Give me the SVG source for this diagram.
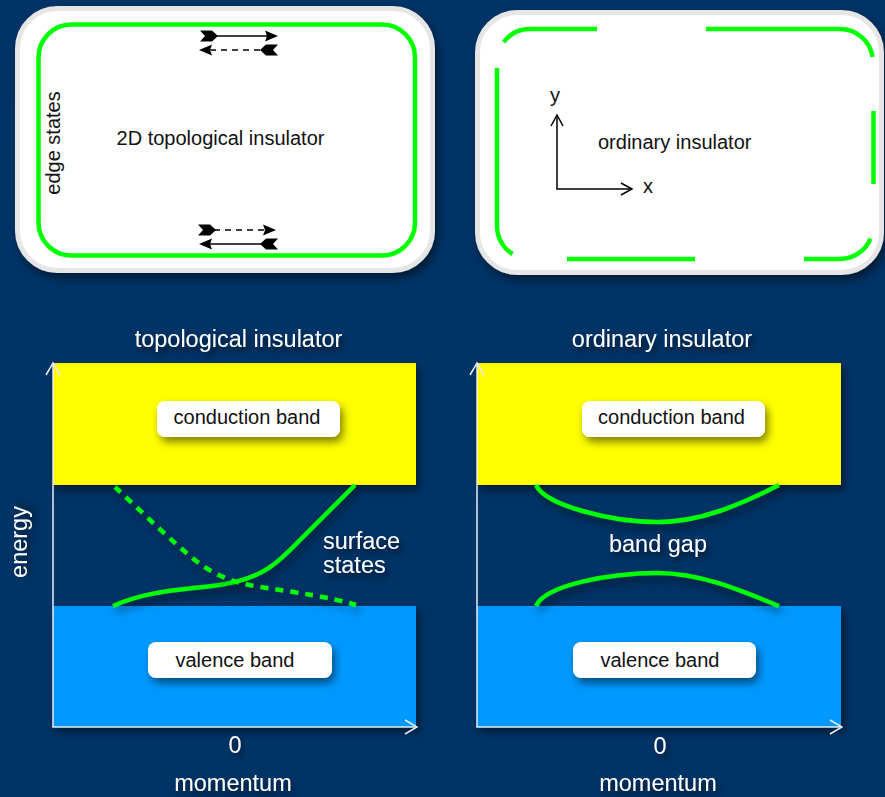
<svg xmlns="http://www.w3.org/2000/svg" width="885" height="797" viewBox="0 0 885 797">
  <defs>
    <style>
      .panel { fill: #ffffff; stroke: #e6e6e6; stroke-width: 5; }
      .edge { fill: none; stroke: #00ff00; stroke-width: 4.5; stroke-linecap: butt; }
      .ink { font-family: "Liberation Sans", Arial, sans-serif; font-size: 20px; fill: #111111; }
      .lbl { font-family: "Liberation Sans", Arial, sans-serif; font-size: 23.5px; fill: #ffffff; }
      .mid { text-anchor: middle; }
      .axis { fill: none; stroke: #e8eef5; stroke-width: 1.5; }
      .thin { fill: none; stroke: #000000; stroke-width: 1.5; }
      .cb { fill: #ffff00; }
      .vb { fill: #0099ff; }
      .box { fill: #ffffff; }
      .state { fill: none; stroke: #00ff00; stroke-width: 4.5; stroke-linecap: butt; }
      .dash { stroke-dasharray: 8 7; }
      .sdash { stroke-dasharray: 6 5; }
    </style>
    <filter id="shadow" x="-20%" y="-20%" width="150%" height="160%">
      <feDropShadow dx="3" dy="5" stdDeviation="4" flood-color="#000000" flood-opacity="0.5"/>
    </filter>
    <filter id="tshadow" x="-20%" y="-40%" width="150%" height="200%">
      <feDropShadow dx="3" dy="4" stdDeviation="3" flood-color="#000000" flood-opacity="0.6"/>
    </filter>
    <!-- fletched tail, tip at origin, pointing right -->
    <path id="fletch" d="M-18,-5.5 L-6,-5.5 L0,0 L-6,5.5 L-18,5.5 L-13,0 Z" fill="#000000"/>
    <!-- arrowhead, tip at origin, pointing right -->
    <path id="head" d="M0,0 L-13,-5.5 L-11,0 L-13,5.5 Z" fill="#000000"/>
    <marker id="open" viewBox="0 0 14 16" refX="13" refY="8" markerWidth="14" markerHeight="16" markerUnits="userSpaceOnUse" orient="auto">
      <path d="M1,1 L13,8 L1,15" fill="none" stroke="#e8eef5" stroke-width="1.5"/>
    </marker>
    <marker id="openk" viewBox="0 0 14 14" refX="12" refY="7" markerWidth="14" markerHeight="14" markerUnits="userSpaceOnUse" orient="auto">
      <path d="M1,1 L12,7 L1,13" fill="none" stroke="#000000" stroke-width="1.5"/>
    </marker>
  </defs>

  <rect width="885" height="797" fill="#003366"/>

  <!-- 2D topological insulator sample -->
  <g id="topo-sample">
    <rect class="panel" x="17.5" y="8.5" width="415" height="262" rx="40" filter="url(#shadow)"/>
    <rect class="edge" x="38.5" y="24.5" width="376.5" height="231" rx="33"/>
    <!-- counter-propagating edge channels, top edge -->
    <line class="thin" x1="212" y1="36" x2="268" y2="36"/>
    <use href="#fletch" transform="translate(218,36)"/>
    <use href="#head" transform="translate(278,36)"/>
    <line class="thin sdash" x1="210" y1="50" x2="262" y2="50"/>
    <use href="#head" transform="translate(199,50) scale(-1,1)"/>
    <use href="#fletch" transform="translate(260,50) scale(-1,1)"/>
    <!-- counter-propagating edge channels, bottom edge -->
    <line class="thin sdash" x1="214" y1="230" x2="266" y2="230"/>
    <use href="#fletch" transform="translate(216,230)"/>
    <use href="#head" transform="translate(276,230)"/>
    <line class="thin" x1="208" y1="244" x2="262" y2="244"/>
    <use href="#head" transform="translate(199,244) scale(-1,1)"/>
    <use href="#fletch" transform="translate(260,244) scale(-1,1)"/>
    <text class="ink mid" x="220.5" y="145">2D topological insulator</text>
    <text class="ink mid" transform="translate(60,143) rotate(-90)">edge states</text>
  </g>

  <!-- ordinary insulator sample -->
  <g id="ordinary-sample">
    <rect class="panel" x="477.5" y="12.5" width="404" height="260" rx="40" filter="url(#shadow)"/>
    <path class="edge" d="M503.6,42.1 A33,33 0 0 1 530,29 L597,29"/>
    <path class="edge" d="M706,29 L840,29 A33,33 0 0 1 872.6,56.8"/>
    <path class="edge" d="M497,68 L497,226 A33,33 0 0 0 512.5,254"/>
    <path class="edge" d="M567,259 L695,259"/>
    <path class="edge" d="M804,259 L840,259 A33,33 0 0 0 870.5,238.6"/>
    <path class="edge" d="M873.5,111 L873.5,184"/>
    <line class="thin" x1="557" y1="189" x2="557" y2="115" marker-end="url(#openk)"/>
    <line class="thin" x1="556.3" y1="189" x2="632" y2="189" marker-end="url(#openk)"/>
    <text class="ink mid" x="555" y="102">y</text>
    <text class="ink" x="643" y="193">x</text>
    <text class="ink" x="598" y="149">ordinary insulator</text>
  </g>

  <!-- band structure: topological insulator -->
  <g id="topo-bands">
    <text class="lbl mid" x="238.5" y="347" filter="url(#tshadow)">topological insulator</text>
    <rect class="cb" x="53" y="363" width="363" height="122" filter="url(#shadow)"/>
    <rect class="vb" x="53" y="606" width="363" height="121" filter="url(#shadow)"/>
    <rect class="box" x="157" y="401" width="183" height="36" rx="8" filter="url(#shadow)"/>
    <text class="ink mid" x="247" y="424">conduction band</text>
    <rect class="box" x="148" y="642" width="184" height="36" rx="8" filter="url(#shadow)"/>
    <text class="ink mid" x="235" y="667">valence band</text>
    <text class="lbl" x="323" y="549" filter="url(#tshadow)">surface</text>
    <text class="lbl" x="323" y="573" filter="url(#tshadow)">states</text>
    <text class="lbl mid" transform="translate(27,542) rotate(-90)" filter="url(#tshadow)">energy</text>
    <text class="lbl mid" x="235" y="753" filter="url(#tshadow)">0</text>
    <text class="lbl mid" x="233" y="791" filter="url(#tshadow)">momentum</text>
  </g>

  <!-- band structure: ordinary insulator -->
  <g id="ordinary-bands">
    <text class="lbl mid" x="662" y="347" filter="url(#tshadow)">ordinary insulator</text>
    <rect class="cb" x="477" y="363" width="364" height="122" filter="url(#shadow)"/>
    <rect class="vb" x="477" y="606" width="364" height="121" filter="url(#shadow)"/>
    <rect class="box" x="582" y="401" width="183" height="36" rx="8" filter="url(#shadow)"/>
    <text class="ink mid" x="671.5" y="424">conduction band</text>
    <rect class="box" x="573" y="642" width="183" height="36" rx="8" filter="url(#shadow)"/>
    <text class="ink mid" x="660" y="667">valence band</text>
    <text class="lbl mid" x="658" y="552" filter="url(#tshadow)">band gap</text>
    <text class="lbl mid" x="660" y="754" filter="url(#tshadow)">0</text>
    <text class="lbl mid" x="658" y="791" filter="url(#tshadow)">momentum</text>
  </g>

  <!-- axes and dispersion curves -->
  <g id="connectors">
    <line class="axis" x1="53" y1="727" x2="53" y2="363" marker-end="url(#open)"/>
    <line class="axis" x1="52.3" y1="727" x2="417" y2="727" marker-end="url(#open)"/>
    <line class="axis" x1="477" y1="727" x2="477" y2="363" marker-end="url(#open)"/>
    <line class="axis" x1="476.3" y1="727" x2="842" y2="727" marker-end="url(#open)"/>

    <path class="state" d="M113,606 C150,589 190,590 225,584 C262,578 278,563 300,540 L355,485" filter="url(#shadow)"/>
    <path class="state dash" d="M115,487 C140,510 170,540 195,560 C215,576 235,583 260,587 C300,593 330,597 356,605" filter="url(#shadow)"/>

    <path class="state" d="M536,485 C545,505 610,522 658,522 C700,522 740,505 779,485" filter="url(#shadow)"/>
    <path class="state" d="M536,606 C545,585 610,573 658,573 C700,573 740,590 779,606" filter="url(#shadow)"/>
  </g>
</svg>
